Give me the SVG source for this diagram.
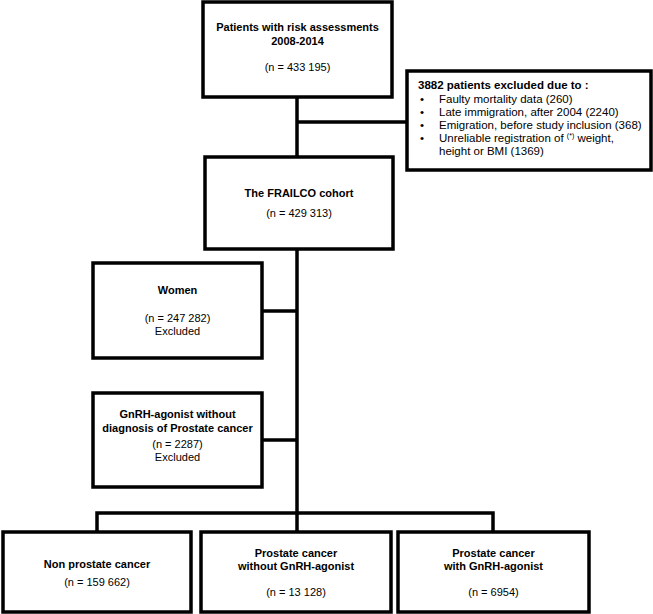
<svg xmlns="http://www.w3.org/2000/svg" width="653" height="614" viewBox="0 0 653 614">
<style>
.box{fill:#fff;stroke:#000;stroke-width:3.5}
.ln{fill:none;stroke:#000;stroke-width:3.5}
text{font-family:"Liberation Sans",Arial,sans-serif;font-size:11px;fill:#000}
.c{text-anchor:middle}
.b{font-weight:bold}
.e{font-size:11.5px}
</style>
<rect width="653" height="614" fill="#fff"/>
<g id="connectors">
<path class="ln" d="M297 97V157M297 122H407M297 249V513M262 311H297M262 440H297M97 532V513H493V532M297 513V532"/>
</g>
<g id="n-patients">
<rect class="box" x="203" y="2" width="189" height="95"/>
<text class="c b" x="297.5" y="31">Patients with risk assessments</text>
<text class="c b" x="297.5" y="45">2008-2014</text>
<text class="c" x="297.5" y="71">(n = 433 195)</text>
</g>
<g id="n-excluded">
<rect class="box" x="407" y="71" width="244" height="99"/>
<text class="b e" x="418" y="89">3882 patients excluded due to :</text>
<text class="e" x="420" y="103">•</text><text class="e" x="439" y="103">Faulty mortality data (260)</text>
<text class="e" x="420" y="116">•</text><text class="e" x="439" y="116">Late immigration, after 2004 (2240)</text>
<text class="e" x="420" y="129">•</text><text class="e" x="439" y="129">Emigration, before study inclusion (368)</text>
<text class="e" x="420" y="142">•</text><text class="e" x="439" y="142">Unreliable registration of <tspan font-size="7" dy="-4">(*)</tspan><tspan dy="4"> weight,</tspan></text>
<text class="e" x="439" y="155">height or BMI (1369)</text>
</g>
<g id="n-cohort">
<rect class="box" x="205" y="157" width="188" height="92"/>
<text class="c b" x="299" y="197">The FRAILCO cohort</text>
<text class="c" x="299" y="217">(n = 429 313)</text>
</g>
<g id="n-women">
<rect class="box" x="93" y="263" width="169" height="95"/>
<text class="c b" x="177.5" y="294">Women</text>
<text class="c" x="177.5" y="322">(n = 247 282)</text>
<text class="c" x="177.5" y="335">Excluded</text>
</g>
<g id="n-gnrh">
<rect class="box" x="93" y="393" width="169" height="94"/>
<text class="c b" x="177.5" y="418">GnRH-agonist without</text>
<text class="c b" x="177.5" y="432">diagnosis of Prostate cancer</text>
<text class="c" x="177.5" y="448">(n = 2287)</text>
<text class="c" x="177.5" y="461">Excluded</text>
</g>
<g id="n-nonprostate">
<rect class="box" x="3" y="532" width="188" height="80"/>
<text class="c b" x="97" y="568">Non prostate cancer</text>
<text class="c" x="97" y="586">(n = 159 662)</text>
</g>
<g id="n-prostate-without">
<rect class="box" x="201" y="532" width="190" height="80"/>
<text class="c b" x="296" y="557">Prostate cancer</text>
<text class="c b" x="296" y="570">without GnRH-agonist</text>
<text class="c" x="296" y="596">(n = 13 128)</text>
</g>
<g id="n-prostate-with">
<rect class="box" x="398" y="532" width="191" height="80"/>
<text class="c b" x="493.5" y="557">Prostate cancer</text>
<text class="c b" x="493.5" y="570">with GnRH-agonist</text>
<text class="c" x="493.5" y="596">(n = 6954)</text>
</g>
</svg>
